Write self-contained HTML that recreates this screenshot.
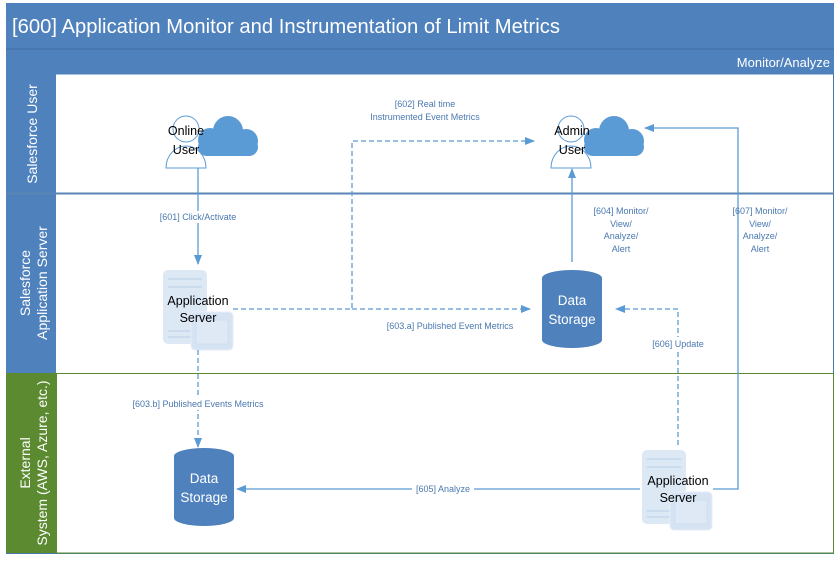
<!DOCTYPE html>
<html><head><meta charset="utf-8"><style>
html,body{margin:0;padding:0;background:#fff;}
svg{display:block;font-family:"Liberation Sans",sans-serif;}
.lb{font-size:9px;fill:#4a78b0;text-anchor:middle;}
.bk{font-size:12.5px;fill:#000;text-anchor:middle;}
.wt{font-size:13.5px;fill:#fff;text-anchor:middle;}
</style></head><body>
<svg width="839" height="562" viewBox="0 0 839 562" xmlns="http://www.w3.org/2000/svg">
<defs>
<marker id="a" markerWidth="10" markerHeight="8" refX="9" refY="4" orient="auto" markerUnits="userSpaceOnUse"><path d="M0,0 L10,4 L0,8 z" fill="#5b9bd5"/></marker>
<g id="srv">
 <rect x="0" y="0" width="44" height="74" rx="5" fill="#dde8f5"/>
 <rect x="5" y="8" width="34" height="2" fill="#cbdcef"/><rect x="5" y="16" width="34" height="2" fill="#cbdcef"/><rect x="5" y="60" width="34" height="2" fill="#cbdcef"/><rect x="5" y="66" width="34" height="2" fill="#cbdcef"/>
 <rect x="28" y="42" width="42" height="38" rx="4" fill="#d5e3f3" stroke="#e6eef8"/>
 <rect x="33" y="50" width="32" height="24" fill="#dfe9f6" stroke="#cfdff0"/>
</g>
<g id="usr" fill="#5b9bd5">
 <circle cx="20" cy="26" r="12"/><circle cx="38" cy="17" r="15"/><circle cx="56" cy="27" r="12"/>
 <rect x="8" y="24" width="60" height="18" rx="9"/>
</g>
</defs>
<rect x="6.5" y="3.5" width="827" height="550" fill="#fff" stroke="#4a78a8"/>
<rect x="6" y="3" width="828" height="46" fill="#4f81bd"/>
<line x1="6" y1="49" x2="834" y2="49" stroke="#3f6da0"/>
<rect x="6" y="49.5" width="828" height="25" fill="#4f81bd"/>
<text x="12" y="33" font-size="20.2" fill="#fff" textLength="548">[600] Application Monitor and Instrumentation of Limit Metrics</text>
<text x="830" y="67" font-size="13" fill="#fff" text-anchor="end">Monitor/Analyze</text>
<rect x="6" y="74" width="50" height="119" fill="#4f81bd"/>
<rect x="6" y="193" width="50" height="180" fill="#4f81bd"/>
<rect x="6" y="373" width="50" height="180" fill="#5b8a30"/>
<line x1="6" y1="193.5" x2="834" y2="193.5" stroke="#5a85b5" stroke-width="2"/>
<line x1="56" y1="373.5" x2="834" y2="373.5" stroke="#5b8a30"/>
<rect x="56.5" y="373.5" width="777" height="179.5" fill="none" stroke="#5b8a30"/>
<text transform="translate(37,134) rotate(-90)" font-size="14" fill="#fff" text-anchor="middle">Salesforce User</text>
<text transform="translate(30,283) rotate(-90)" font-size="14" fill="#fff" text-anchor="middle">Salesforce</text>
<text transform="translate(47,283) rotate(-90)" font-size="14" fill="#fff" text-anchor="middle">Application Server</text>
<text transform="translate(30,463) rotate(-90)" font-size="14" fill="#fff" text-anchor="middle">External</text>
<text transform="translate(47,463) rotate(-90)" font-size="14" fill="#fff" text-anchor="middle">System (AWS, Azure, etc.)</text>

<use href="#usr" x="190" y="114"/>
<circle cx="186" cy="129" r="13" fill="#fff" stroke="#5b9bd5"/>
<path d="M166,168 a20,22 0 0 1 40,0 z" fill="#fff" stroke="#5b9bd5"/>
<text class="bk" x="186" y="135">Online</text><text class="bk" x="186" y="154">User</text>
<use href="#usr" x="576" y="114"/>
<circle cx="571" cy="129" r="13" fill="#fff" stroke="#5b9bd5"/>
<path d="M551,168 a20,22 0 0 1 40,0 z" fill="#fff" stroke="#5b9bd5"/>
<text class="bk" x="572" y="135">Admin</text><text class="bk" x="572" y="154">User</text>

<use href="#srv" x="163" y="270"/>
<text class="bk" x="198" y="305" font-size="11.5">Application</text><text class="bk" x="198" y="322" font-size="11.5">Server</text>
<use href="#srv" x="642" y="450"/>
<text class="bk" x="678" y="485" font-size="11.5">Application</text><text class="bk" x="678" y="502" font-size="11.5">Server</text>

<path d="M542,278 a30,8 0 0 1 60,0 v62 a30,8 0 0 1 -60,0z" fill="#4f81bd"/>
<text class="wt" x="572" y="305">Data</text><text class="wt" x="572" y="324">Storage</text>
<path d="M174,456 a30,8 0 0 1 60,0 v62 a30,8 0 0 1 -60,0z" fill="#4f81bd"/>
<text class="wt" x="204" y="483">Data</text><text class="wt" x="204" y="502">Storage</text>

<g fill="none" stroke="#5b9bd5" stroke-width="1.3">
<line x1="198" y1="168" x2="198" y2="264" marker-end="url(#a)"/>
<polyline points="233,309 352,309 352,141 534,141" stroke-dasharray="5,3" marker-end="url(#a)"/>
<line x1="352" y1="309" x2="530" y2="309" stroke-dasharray="5,3" marker-end="url(#a)"/>
<line x1="572" y1="262" x2="572" y2="169" marker-end="url(#a)"/>
<polyline points="713,489 738,489 738,128 645,128" marker-end="url(#a)"/>
<polyline points="678,445 678,309 616,309" stroke-dasharray="5,3" marker-end="url(#a)"/>
<line x1="198" y1="350" x2="198" y2="447" stroke-dasharray="5,3" marker-end="url(#a)"/>
<line x1="640" y1="489" x2="237" y2="489" marker-end="url(#a)"/>
</g>
<rect x="652" y="337" width="52" height="12" fill="#fff"/>
<rect x="412" y="484" width="62" height="11" fill="#fff"/>
<rect x="125" y="398" width="146" height="12" fill="#fff"/>
<rect x="150" y="211" width="96" height="12" fill="#fff"/>

<text class="lb" x="198" y="220">[601] Click/Activate</text>
<text class="lb" x="425" y="107">[602] Real time</text>
<text class="lb" x="425" y="120">Instrumented Event Metrics</text>
<text class="lb" x="450" y="329">[603.a] Published Event Metrics</text>
<text class="lb" x="198" y="407">[603.b] Published Events Metrics</text>
<text class="lb" x="621" y="214">[604] Monitor/</text><text class="lb" x="621" y="227">View/</text><text class="lb" x="621" y="239">Analyze/</text><text class="lb" x="621" y="252">Alert</text>
<text class="lb" x="760" y="214">[607] Monitor/</text><text class="lb" x="760" y="227">View/</text><text class="lb" x="760" y="239">Analyze/</text><text class="lb" x="760" y="252">Alert</text>
<text class="lb" x="443" y="492">[605] Analyze</text>
<text class="lb" x="678" y="347">[606] Update</text>
</svg>
</body></html>
